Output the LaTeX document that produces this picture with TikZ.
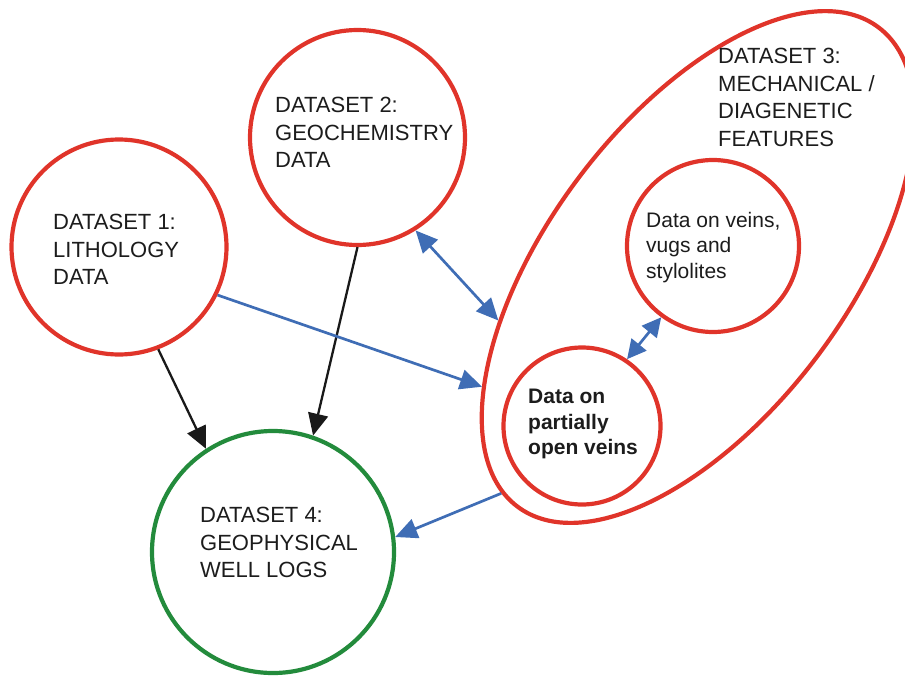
\documentclass[tikz,border=0pt]{standalone}
\usepackage{fontspec}
\setmainfont{Liberation Sans}
\usetikzlibrary{arrows.meta,shapes.geometric}
\definecolor{ringred}{HTML}{E0342A}
\definecolor{ringgreen}{HTML}{238B3C}
\definecolor{linkblue}{HTML}{3F6DB5}
\definecolor{inkgray}{HTML}{1C1C1C}
\begin{document}
\begin{tikzpicture}[x=1pt,y=-1pt,
  ring/.style={circle,draw=ringred,line width=4.2pt,inner sep=0pt},
  greenring/.style={circle,draw=ringgreen,line width=4.2pt,inner sep=0pt},
  bigtxt/.style={anchor=north west,inner sep=0pt,align=left,text=inkgray,
    font=\fontsize{22pt}{27.4pt}\selectfont},
  smalltxt/.style={anchor=north west,inner sep=0pt,align=left,text=inkgray,
    font=\fontsize{21pt}{25.5pt}\selectfont},
  blackarrow/.style={draw=black!90,line width=2.3pt,
    -{Triangle[length=22pt,width=20pt]}},
  bluearrow/.style={draw=linkblue,line width=2.7pt,
    -{Triangle[length=22pt,width=20pt]}},
  bluetwoway/.style={draw=linkblue,line width=2.7pt,
    {Triangle[length=22pt,width=20pt]}-{Triangle[length=22pt,width=20pt]}},
  shorttwoway/.style={draw=linkblue,line width=2.7pt,
    {Triangle[length=19pt,width=19pt]}-{Triangle[length=19pt,width=19pt]}}
]
\useasboundingbox (0,0) rectangle (905,675);

% data set circles
\node[ring,minimum size=215pt] (c1) at (119,247) {};
\node[ring,minimum size=215pt] (c2) at (357.5,137.5) {};
\node[greenring,minimum size=242pt] (c4) at (273,552) {};

% data set 3: tilted ellipse holding two sub-circles
\node[ellipse,draw=ringred,line width=4.2pt,inner sep=0pt,
  minimum width=600pt,minimum height=298pt,rotate=53] (ds3) at (698,267) {};
\node[ring,minimum size=172pt] (vv) at (713,246) {};
\node[ring,minimum size=157pt] (ov) at (582,426) {};

% labels
\node[bigtxt] (t1) at (53,214.3) {DATASET 1:\\LITHOLOGY\\DATA};
\node[bigtxt] (t2) at (275,97.3) {DATASET 2:\\GEOCHEMISTRY\\DATA};
\node[bigtxt] (t3) at (718,48.3) {DATASET 3:\\MECHANICAL /\\DIAGENETIC\\FEATURES};
\node[bigtxt] (t4) at (200,507.3) {DATASET 4:\\GEOPHYSICAL\\WELL LOGS};
\node[smalltxt] (tv) at (646,212) {Data on veins,\\vugs and\\stylolites};
\node[smalltxt,font=\fontsize{21pt}{25.5pt}\selectfont\bfseries] (to) at (528,389)
  {Data on\\partially\\open veins};

% connectors
\draw[blackarrow] (c1.-69) -- (c4.123);
\draw[blackarrow] (c2.-90) -- (c4.71);
\draw[bluearrow] (c1.-26) -- (ds3.156.4);
\draw[bluetwoway] (c2.-58) -- (ds3.142.7);
\draw[shorttwoway] (vv.234.5) -- (ov.56.7);
\draw[bluearrow] (ds3.176.1) -- (c4.7.5);
\end{tikzpicture}
\end{document}
